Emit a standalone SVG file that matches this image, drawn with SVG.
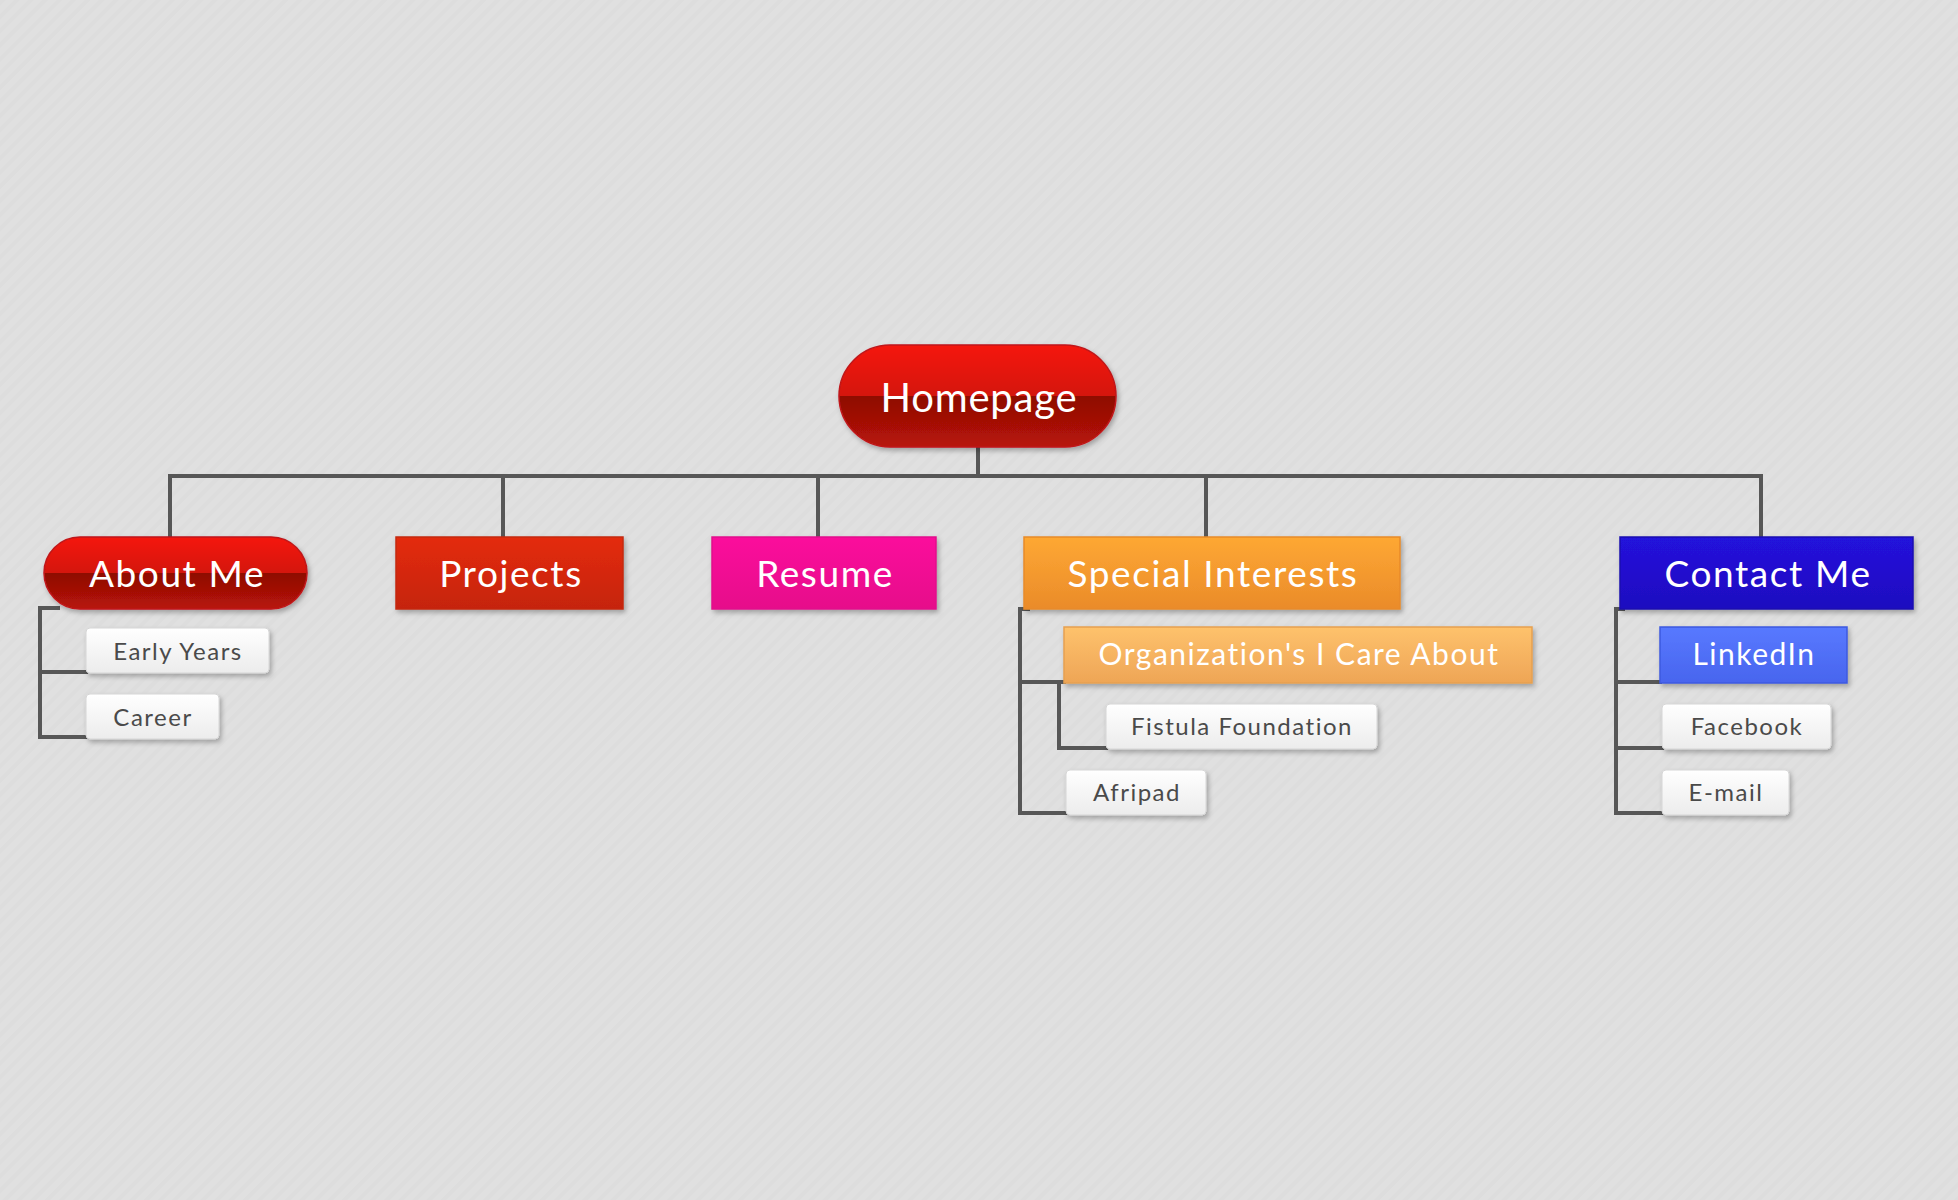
<svg xmlns="http://www.w3.org/2000/svg" width="1958" height="1200" viewBox="0 0 1958 1200">
<style>
.t{font-family:Lato,"Noto Sans","Liberation Sans",sans-serif;text-anchor:middle}
.w{fill:#ffffff}
.g{fill:#4a4a4a;font-size:24px;letter-spacing:1.5px}
.l1{font-size:37px;letter-spacing:1.6px}
.l2{font-size:30px;letter-spacing:1.5px}
.conn{fill:none;stroke:#575757;stroke-width:4;stroke-linejoin:miter}
.leaf{fill:url(#gWhite);stroke:#d6d6d6;stroke-width:1;filter:url(#sh)}
</style>
<defs>
<pattern id="bg" width="10" height="10" patternUnits="userSpaceOnUse" patternTransform="rotate(45)">
<rect width="10" height="10" fill="#e0e0e0"/>
<rect width="4" height="10" fill="#dddddd"/>
</pattern>
<filter id="sh" x="-10%" y="-20%" width="125%" height="160%">
<feDropShadow dx="2" dy="3" stdDeviation="2.5" flood-color="#000" flood-opacity="0.28"/>
</filter>
<linearGradient id="gGloss" x1="0" y1="0" x2="0" y2="1">
<stop offset="0" stop-color="#f5180a"/>
<stop offset="0.5" stop-color="#d4120a"/>
<stop offset="0.5" stop-color="#8e0c04"/>
<stop offset="1" stop-color="#b81408"/>
</linearGradient>
<linearGradient id="gProj" x1="0" y1="0" x2="0" y2="1">
<stop offset="0" stop-color="#e42b0e"/>
<stop offset="1" stop-color="#c52410"/>
</linearGradient>
<linearGradient id="gRes" x1="0" y1="0" x2="0" y2="1">
<stop offset="0" stop-color="#fb0f9c"/>
<stop offset="1" stop-color="#e60e8a"/>
</linearGradient>
<linearGradient id="gSpec" x1="0" y1="0" x2="0" y2="1">
<stop offset="0" stop-color="#fea833"/>
<stop offset="1" stop-color="#ea8b2a"/>
</linearGradient>
<linearGradient id="gCont" x1="0" y1="0" x2="0" y2="1">
<stop offset="0" stop-color="#2412dc"/>
<stop offset="1" stop-color="#1e0ebf"/>
</linearGradient>
<linearGradient id="gOrg" x1="0" y1="0" x2="0" y2="1">
<stop offset="0" stop-color="#fec26c"/>
<stop offset="1" stop-color="#eea556"/>
</linearGradient>
<linearGradient id="gLink" x1="0" y1="0" x2="0" y2="1">
<stop offset="0" stop-color="#5879ff"/>
<stop offset="1" stop-color="#4865ee"/>
</linearGradient>
<linearGradient id="gWhite" x1="0" y1="0" x2="0" y2="1">
<stop offset="0" stop-color="#ffffff"/>
<stop offset="1" stop-color="#ececec"/>
</linearGradient>
</defs>
<rect width="1958" height="1200" fill="url(#bg)"/>

<g id="connectors">
<path class="conn" d="M978 447 V476 M170 537 V476 H1761 V537 M503 476 V537 M818 476 V537 M1206 476 V537"/>
<path class="conn" d="M60 608 H40 V737 H88 M40 672 H88"/>
<path class="conn" d="M1030 609 H1020 V813 H1068 M1020 682 H1066 M1059 683 V748 H1108"/>
<path class="conn" d="M1625 609 H1616 V813 H1664 M1616 682 H1662 M1616 748 H1664"/>
</g>

<g id="homepage">
<rect x="839" y="345" width="277" height="102" rx="51" fill="url(#gGloss)" stroke="#c0161a" stroke-width="1.5" filter="url(#sh)"/>
<text class="t w" x="979" y="412" font-size="40" letter-spacing="0.8">Homepage</text>
</g>

<g id="about-me">
<rect x="44" y="537" width="263" height="72" rx="36" fill="url(#gGloss)" stroke="#c0161a" stroke-width="1.5" filter="url(#sh)"/>
<text class="t w l1" x="177" y="587">About Me</text>
</g>
<g id="projects">
<rect x="396" y="537" width="227" height="72" fill="url(#gProj)" stroke="#c42a12" stroke-width="1.5" filter="url(#sh)"/>
<text class="t w l1" x="511" y="587">Projects</text>
</g>
<g id="resume">
<rect x="712" y="537" width="224" height="72" fill="url(#gRes)" stroke="#e20e8c" stroke-width="1.5" filter="url(#sh)"/>
<text class="t w l1" x="825" y="587">Resume</text>
</g>
<g id="special-interests">
<rect x="1024" y="537" width="376" height="72" fill="url(#gSpec)" stroke="#e88a2a" stroke-width="1.5" filter="url(#sh)"/>
<text class="t w l1" x="1213" y="587">Special Interests</text>
</g>
<g id="contact-me">
<rect x="1620" y="537" width="293" height="72" fill="url(#gCont)" stroke="#1a0cb0" stroke-width="1.5" filter="url(#sh)"/>
<text class="t w l1" x="1768" y="587">Contact Me</text>
</g>

<g id="early-years">
<rect class="leaf" x="86" y="628" width="183" height="45" rx="4"/>
<text class="t g" x="178" y="660">Early Years</text>
</g>
<g id="career">
<rect class="leaf" x="86" y="694" width="133" height="45" rx="4"/>
<text class="t g" x="153" y="726">Career</text>
</g>

<g id="organizations">
<rect x="1064" y="627" width="468" height="56" fill="url(#gOrg)" stroke="#e6a050" stroke-width="1.5" filter="url(#sh)"/>
<text class="t w l2" x="1299" y="665">Organization's I Care About</text>
</g>
<g id="fistula-foundation">
<rect class="leaf" x="1106" y="704" width="271" height="45" rx="4"/>
<text class="t g" x="1242" y="735">Fistula Foundation</text>
</g>
<g id="afripad">
<rect class="leaf" x="1066" y="770" width="140" height="45" rx="4"/>
<text class="t g" x="1137" y="801">Afripad</text>
</g>

<g id="linkedin">
<rect x="1660" y="627" width="187" height="56" fill="url(#gLink)" stroke="#3c5ae0" stroke-width="1.5" filter="url(#sh)"/>
<text class="t w l2" x="1754" y="665">LinkedIn</text>
</g>
<g id="facebook">
<rect class="leaf" x="1662" y="704" width="169" height="45" rx="4"/>
<text class="t g" x="1747" y="735">Facebook</text>
</g>
<g id="e-mail">
<rect class="leaf" x="1662" y="770" width="127" height="45" rx="4"/>
<text class="t g" x="1726" y="801">E-mail</text>
</g>
</svg>
